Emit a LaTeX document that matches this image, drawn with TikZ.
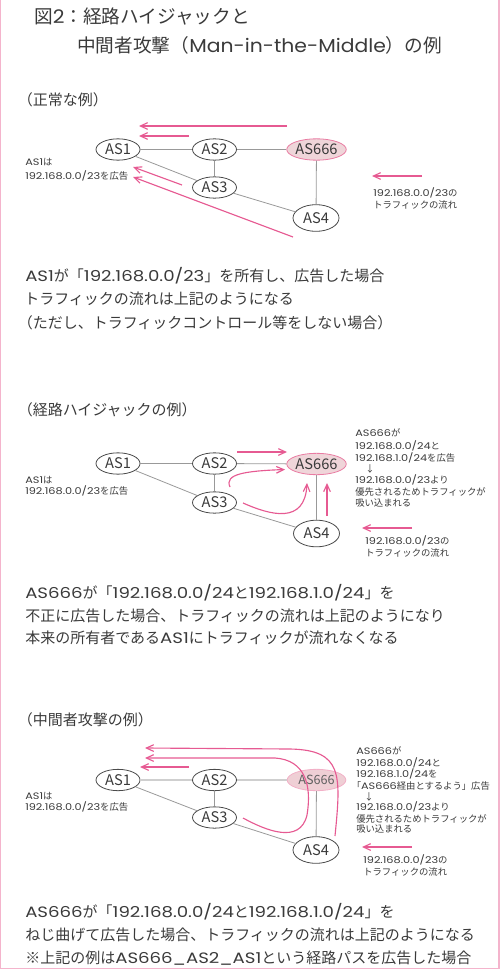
\documentclass[tikz,border=0pt]{standalone}
\usepackage{fontspec}
\setmainfont{Noto Sans CJK JP}
\newfontfamily\jpfont{Noto Sans CJK JP}
\newfontfamily\latfont[Numbers=Monospaced, FakeStretch=1.21]{Poppins}
\newfontfamily\latfonttitle[Numbers=Monospaced, FakeStretch=1.09]{Poppins}
\XeTeXinterchartokenstate=1
\newXeTeXintercharclass\jpclass
\newcount\jpc
\def\setjprange#1#2{\jpc=#1\relax\loop\XeTeXcharclass\jpc=\jpclass\relax\ifnum\jpc<#2\relax\advance\jpc by 1\repeat}
\setjprange{"3000}{"30FF}
\setjprange{"4E00}{"9FFF}
\setjprange{"FF00}{"FFEF}
\XeTeXcharclass"203B=\jpclass
\XeTeXcharclass"2193=\jpclass
\XeTeXinterchartoks 0 \jpclass = {\jpfont}
\XeTeXinterchartoks \jpclass 0 = {\latfont}
\XeTeXinterchartoks 4095 \jpclass = {\jpfont}
\XeTeXinterchartoks 4095 0 = {\latfont}
\def\noswitch{\XeTeXinterchartokenstate=0\relax}
\def\titlelatin{\let\latfont\latfonttitle}
\usetikzlibrary{shapes.geometric,arrows.meta}
\definecolor{txt}{HTML}{3A3A3A}
\definecolor{nodeline}{HTML}{4A4A4A}
\definecolor{edgegray}{HTML}{999999}
\definecolor{lightedge}{HTML}{CFCFCF}
\definecolor{flowpink}{HTML}{E65A92}
\definecolor{evilfill}{HTML}{EFD5D9}
\definecolor{evilline}{HTML}{E97BA2}
\definecolor{bordercol}{HTML}{F4B4CC}
\begin{document}
\begin{tikzpicture}[x=0.75pt,y=-0.75pt,
  asnode/.style={ellipse, draw=nodeline, line width=0.6pt, minimum width=33pt, minimum height=16pt, inner sep=0pt, text=txt, font=\noswitch\jpfont\fontsize{11}{12}\selectfont},
  evil/.style={asnode, fill=evilfill, draw=evilline, minimum width=44pt},
  asfour/.style={asnode, minimum width=34.5pt, minimum height=20pt},
  link/.style={draw=edgegray, line width=0.6pt},
  biglink/.style={draw=lightedge, line width=1.6pt},
  flow/.style={draw=flowpink, line width=0.85pt, -{Straight Barb[length=5.5pt,width=5pt]}},
  lbl/.style={anchor=base west, inner sep=0pt, text=txt},
  ttl/.style={lbl, font=\titlelatin\fontsize{14}{16}\selectfont},
  body/.style={lbl, font=\fontsize{11.25}{13}\selectfont},
  small/.style={lbl, font=\fontsize{7}{8}\selectfont}
]
\useasboundingbox (0,0) rectangle (500,970);
\draw[bordercol, line width=1.1pt] (0.7,0) -- (0.7,968.6) -- (499.1,968.6) -- (499.1,0);

% title
\node[ttl] (tA) at (34,23.1) {図2：経路ハイジャックと};
\node[ttl] (tB) at (77,52.1) {中間者攻撃（Man-in-the-Middle）の例};

% ---------------- diagram 1
\node[body] (h1) at (17.5,105.7) {（正常な例）};
\node[asnode] (a1) at (118,149.5) {AS1};
\node[asnode] (b1) at (214.5,149.5) {AS2};
\node[evil]   (e1) at (316.5,149.5) {AS666};
\node[asnode] (c1) at (214.5,187.5) {AS3};
\node[asfour] (d1) at (316,218) {AS4};
\draw[link] (a1) -- (b1);
\draw[link] (b1) -- (e1);
\draw[link] (b1) -- (c1);
\draw[link] (a1) -- (c1);
\draw[link] (c1) -- (d1);
\draw[link] (e1) -- (d1);
\coordinate (f1s) at (287,126); \coordinate (f1e) at (139,126);
\coordinate (f2s) at (189,136); \coordinate (f2e) at (139,136);
\coordinate (f3s) at (182,185); \coordinate (f3e) at (133,167);
\coordinate (f4s) at (293,237); \coordinate (f4e) at (133,177);
\draw[flow] (f1s) -- (f1e);
\draw[flow] (f2s) -- (f2e);
\draw[flow] (f3s) -- (f3e);
\draw[flow] (f4s) -- (f4e);
\node[small] (n1a) at (25,165.5) {AS1は};
\node[small] (n1b) at (25,179.5) {192.168.0.0/23を広告};
\coordinate (g1s) at (422,176); \coordinate (g1e) at (372,176);
\draw[flow] (g1s) -- (g1e);
\node[small] (l1a) at (373,196.5) {192.168.0.0/23の};
\node[small] (l1b) at (373,208.5) {トラフィックの流れ};

\node[body] (s1a) at (25,281.7) {AS1が「192.168.0.0/23」を所有し、広告した場合};
\node[body] (s1b) at (24,304.7) {トラフィックの流れは上記のようになる};
\node[body] (s1c) at (17.5,328.7) {（ただし、トラフィックコントロール等をしない場合）};

% ---------------- diagram 2
\node[body] (h2) at (17.5,415.7) {（経路ハイジャックの例）};
\node[asnode] (a2) at (118,463.5) {AS1};
\node[asnode] (b2) at (214.5,463.5) {AS2};
\node[evil]   (e2) at (316.5,464) {AS666};
\node[asnode] (c2) at (214.5,502.5) {AS3};
\node[asfour] (d2) at (316.5,533.5) {AS4};
\draw[link] (a2) -- (b2);
\draw[link] (b2) -- (e2);
\draw[link] (b2) -- (c2);
\draw[link] (a2) -- (c2);
\draw[link] (c2) -- (d2);
\draw[link] (e2) -- (d2);
\coordinate (k1s) at (237,452); \coordinate (k1e) at (287,452);
\coordinate (k2s) at (230,487); \coordinate (k2e) at (285,469.5);
\coordinate (k3s) at (243,503); \coordinate (k3e) at (307,483);
\coordinate (k4s) at (327,516); \coordinate (k4e) at (327,483);
\draw[flow] (k1s) -- (k1e);
\draw[flow] (k2s) .. controls (224,474) and (245,471) .. (k2e);
\draw[flow] (k3s) .. controls (270,515) and (305,525) .. (k3e);
\draw[flow] (k4s) -- (k4e);
\node[small] (n2a) at (25,483.5) {AS1は};
\node[small] (n2b) at (25,494.2) {192.168.0.0/23を広告};
\node[small] (m2a) at (355,436.8) {AS666が};
\node[small] (m2b) at (355,449.5) {192.168.0.0/24と};
\node[small] (m2c) at (355,461.8) {192.168.1.0/24を広告};
\node[small, anchor=base] (m2d) at (370,472.5) {↓};
\node[small] (m2e) at (355,483.5) {192.168.0.0/23より};
\node[small] (m2f) at (355,495.2) {優先されるためトラフィックが};
\node[small] (m2g) at (355,506.8) {吸い込まれる};
\coordinate (g2s) at (412,528); \coordinate (g2e) at (362,528);
\draw[flow] (g2s) -- (g2e);
\node[small] (l2a) at (365,544.2) {192.168.0.0/23の};
\node[small] (l2b) at (365,556.2) {トラフィックの流れ};

\node[body] (s2a) at (25,598.7) {AS666が「192.168.0.0/24と192.168.1.0/24」を};
\node[body] (s2b) at (25,621.7) {不正に広告した場合、トラフィックの流れは上記のようになり};
\node[body] (s2c) at (25,643.7) {本来の所有者であるAS1にトラフィックが流れなくなる};

% ---------------- diagram 3
\node[body] (h3) at (17.5,725.7) {（中間者攻撃の例）};
\node[asnode] (a3) at (118,780) {AS1};
\node[asnode] (b3) at (214.5,780) {AS2};
\node[evil, draw=evilline!60, fill=evilfill!95!flowpink, text=txt!80, font=\noswitch\jpfont\fontsize{9.5}{11}\selectfont] (e3) at (316.5,780) {AS666};
\node[asnode] (c3) at (214.5,817.5) {AS3};
\node[asfour] (d3) at (316,850) {AS4};
\draw[biglink] (a3) -- (b3);
\draw[biglink] (b3) -- (e3);
\draw[link] (b3) -- (c3);
\draw[link] (a3) -- (c3);
\draw[link] (c3) -- (d3);
\draw[link] (e3) -- (d3);
\coordinate (q1s) at (335,836); \coordinate (q1m) at (290,749); \coordinate (q1e) at (145,748);
\coordinate (q2s) at (243,818); \coordinate (q2m) at (307,815); \coordinate (q2n) at (275,758); \coordinate (q2e) at (145,758);
\coordinate (q3s) at (189,767); \coordinate (q3e) at (140,767);
\draw[flow] (q1s) .. controls (341,775) and (343,750) .. (q1m) -- (q1e);
\draw[flow] (q2s) .. controls (265,830) and (300,845) .. (q2m) .. controls (312,785) and (305,760) .. (q2n) -- (q2e);
\draw[flow] (q3s) -- (q3e);
\node[small] (n3a) at (25,799.2) {AS1は};
\node[small] (n3b) at (25,810.8) {192.168.0.0/23を広告};
\node[small] (m3a) at (356,754.2) {AS666が};
\node[small] (m3b) at (356,766.2) {192.168.0.0/24と};
\node[small] (m3c) at (356,777.5) {192.168.1.0/24を};
\node[small] (m3d) at (351.5,789.2) {「AS666経由とするよう」広告};
\node[small, anchor=base] (m3e) at (369,800.2) {↓};
\node[small] (m3f) at (356,810.8) {192.168.0.0/23より};
\node[small] (m3g) at (356,822.5) {優先されるためトラフィックが};
\node[small] (m3h) at (356,832.8) {吸い込まれる};
\coordinate (g3s) at (412,847); \coordinate (g3e) at (362,847);
\draw[flow] (g3s) -- (g3e);
\node[small] (l3a) at (363,863.5) {192.168.0.0/23の};
\node[small] (l3b) at (363,875.2) {トラフィックの流れ};

\node[body] (s3a) at (25,917.7) {AS666が「192.168.0.0/24と192.168.1.0/24」を};
\node[body] (s3b) at (25,940.7) {ねじ曲げて広告した場合、トラフィックの流れは上記のようになる};
\node[body] (s3c) at (25,963.7) {※上記の例はAS666\_AS2\_AS1という経路パスを広告した場合};
\end{tikzpicture}
\end{document}
